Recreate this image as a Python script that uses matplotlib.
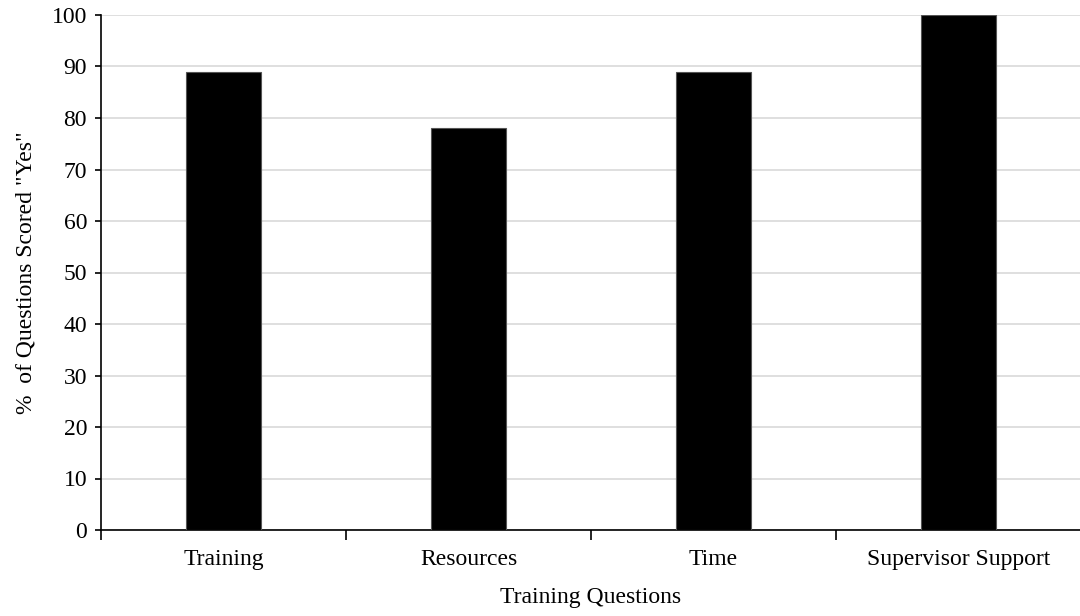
import numpy as np
import matplotlib.pyplot as plt

categories = ["Training", "Resources", "Time", "Supervisor Support"]
values = [89, 78, 89, 100]

plt.rcParams['font.family'] = ['Liberation Serif', 'DejaVu Serif']

fig = plt.figure(figsize=(10.8, 6.16), dpi=100)
ax = fig.add_axes([101 / 1080, 1 - 530 / 616, 980 / 1080, 515 / 616])

x = np.arange(len(categories))
ax.bar(x, values, width=0.31, color="black", edgecolor="#555555", linewidth=0.8, zorder=3)

ax.set_xlim(-0.5, len(categories) - 0.5)
ax.set_ylim(0, 100)
ax.set_yticks(np.arange(0, 101, 10))
ax.yaxis.grid(True, color="#d9d9d9", linewidth=1.2, zorder=0)

ax.set_xticks(x)
ax.set_xticklabels(categories, fontsize=17)
ax.tick_params(axis="x", length=0, pad=14)
ax.set_xticks(np.arange(-0.5, len(categories), 1), minor=True)
ax.tick_params(axis="x", which="minor", length=7, width=1.2, direction="out")
ax.tick_params(axis="y", labelsize=17, length=4, width=1.2, direction="out", pad=6)

for s in ["top", "right"]:
    ax.spines[s].set_visible(False)
for s in ["left", "bottom"]:
    ax.spines[s].set_linewidth(1.2)

ax.set_xlabel("Training Questions", fontsize=17, labelpad=12)
ax.set_ylabel('%  of Questions Scored "Yes"', fontsize=17, labelpad=11)

fig.savefig("out.png", dpi=100)
